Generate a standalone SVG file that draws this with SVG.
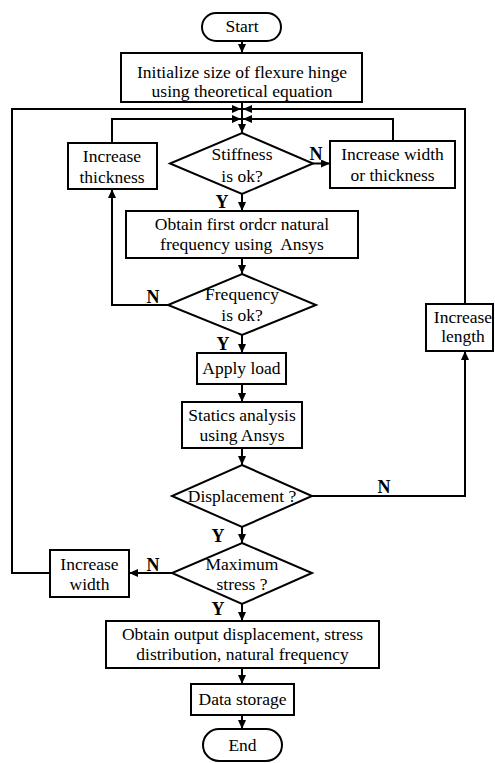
<svg xmlns="http://www.w3.org/2000/svg" width="495" height="763" viewBox="0 0 495 763">
<style>
.shape{fill:#fff;stroke:#000;stroke-width:2}
.conn{fill:none;stroke:#000;stroke-width:2}
text{font-family:"Liberation Serif","Times New Roman",serif;font-size:17.5px;fill:#000;text-anchor:middle}
.lbl{font-weight:bold;font-size:18px}
</style>
<defs>
<marker id="arr" markerUnits="userSpaceOnUse" markerWidth="9" markerHeight="8" refX="9" refY="4" orient="auto">
<path d="M0,0 L9,4 L0,8 z" fill="#000"/>
</marker>
</defs>
<rect width="495" height="763" fill="#fff"/>
<g id="connectors">
<path class="conn" d="M242,41 V53" marker-end="url(#arr)"/>
<path class="conn" d="M242,102 V133" marker-end="url(#arr)"/>
<path class="conn" d="M50,573 H12 V109 H241" marker-end="url(#arr)"/>
<path class="conn" d="M465,304 V109 H243" marker-end="url(#arr)"/>
<path class="conn" d="M112,143 V119 H241" marker-end="url(#arr)"/>
<path class="conn" d="M393,141 V119 H243" marker-end="url(#arr)"/>
<path class="conn" d="M313,163.5 H330" marker-end="url(#arr)"/>
<path class="conn" d="M242,194 V211" marker-end="url(#arr)"/>
<path class="conn" d="M242,258 V274" marker-end="url(#arr)"/>
<path class="conn" d="M168,305 H112 V189" marker-end="url(#arr)"/>
<path class="conn" d="M242,335 V353" marker-end="url(#arr)"/>
<path class="conn" d="M242,384 V402" marker-end="url(#arr)"/>
<path class="conn" d="M242,448 V465" marker-end="url(#arr)"/>
<path class="conn" d="M312,496 H465 V351" marker-end="url(#arr)"/>
<path class="conn" d="M242,527 V543" marker-end="url(#arr)"/>
<path class="conn" d="M172,573 H129" marker-end="url(#arr)"/>
<path class="conn" d="M242,604 V621" marker-end="url(#arr)"/>
<path class="conn" d="M242,668 V684" marker-end="url(#arr)"/>
<path class="conn" d="M242,715 V729" marker-end="url(#arr)"/>
<text class="lbl" x="316" y="160">N</text>
<text class="lbl" x="222" y="208">Y</text>
<text class="lbl" x="153" y="303">N</text>
<text class="lbl" x="223" y="350">Y</text>
<text class="lbl" x="384" y="493">N</text>
<text class="lbl" x="218" y="542">Y</text>
<text class="lbl" x="153" y="571">N</text>
<text class="lbl" x="218" y="615">Y</text>
</g>
<g id="start">
<rect class="shape" x="202" y="13" width="79" height="28" rx="14"/>
<text x="242" y="32">Start</text>
</g>
<g id="init">
<rect class="shape" x="121" y="53" width="241" height="49"/>
<text x="242" y="78">Initialize size of flexure hinge</text>
<text x="242" y="97">using theoretical equation</text>
</g>
<g id="stiffness">
<polygon class="shape" points="242,133 313,163.5 242,194 170,163.5"/>
<text x="242" y="160">Stiffness</text>
<text x="242" y="182">is ok?</text>
</g>
<g id="inc-thickness">
<rect class="shape" x="68" y="143" width="89" height="46"/>
<text x="112" y="162">Increase</text>
<text x="112" y="183">thickness</text>
</g>
<g id="inc-width-thickness">
<rect class="shape" x="330" y="141" width="125" height="47"/>
<text x="392.5" y="160">Increase width</text>
<text x="392.5" y="181">or thickness</text>
</g>
<g id="obtain-freq">
<rect class="shape" x="126" y="211" width="232" height="47"/>
<text x="242" y="230">Obtain first ordcr natural</text>
<text x="242" y="250" xml:space="preserve">frequency using  Ansys</text>
</g>
<g id="frequency">
<polygon class="shape" points="242,274 316,305 242,335 168,305"/>
<text x="242" y="300">Frequency</text>
<text x="242" y="321">is ok?</text>
</g>
<g id="inc-length">
<rect class="shape" x="426" y="304" width="67" height="47"/>
<text x="463" y="323">Increase</text>
<text x="463" y="342">length</text>
</g>
<g id="apply-load">
<rect class="shape" x="197" y="353" width="89" height="31"/>
<text x="241.5" y="374">Apply load</text>
</g>
<g id="statics">
<rect class="shape" x="182" y="402" width="120" height="46"/>
<text x="242" y="421">Statics analysis</text>
<text x="242" y="441">using Ansys</text>
</g>
<g id="displacement">
<polygon class="shape" points="242,465 312,496 242,527 172,496"/>
<text x="242" y="502">Displacement ?</text>
</g>
<g id="max-stress">
<polygon class="shape" points="242,543 312,573 242,604 172,573"/>
<text x="242" y="570">Maximum</text>
<text x="242" y="590">stress ?</text>
</g>
<g id="inc-width">
<rect class="shape" x="50" y="550" width="79" height="47"/>
<text x="89.5" y="570">Increase</text>
<text x="89.5" y="590">width</text>
</g>
<g id="obtain-output">
<rect class="shape" x="106" y="621" width="273" height="47"/>
<text x="242.5" y="640">Obtain output displacement, stress</text>
<text x="242.5" y="660">distribution, natural frequency</text>
</g>
<g id="data-storage">
<rect class="shape" x="191" y="684" width="103" height="31"/>
<text x="242.5" y="705">Data storage</text>
</g>
<g id="end">
<rect class="shape" x="203" y="729" width="79" height="32" rx="16"/>
<text x="242.5" y="751">End</text>
</g>
</svg>
